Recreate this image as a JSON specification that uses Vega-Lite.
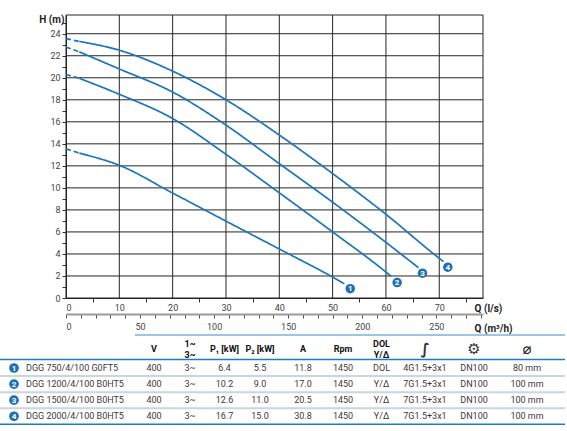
{
  "$schema": "https://vega.github.io/schema/vega-lite/v6.json",
  "autosize": {"type": "none"},
  "width": 417,
  "height": 283,
  "padding": {"left": 66, "top": 15, "right": 84, "bottom": 133},
  "background": "white",
  "datasets": {
    "gridQ": [{"q": 0}, {"q": 10}, {"q": 20}, {"q": 30}, {"q": 40}, {"q": 50}, {"q": 60}, {"q": 70}, {"q": 78.2}],
    "gridH": [{"h": 0}, {"h": 2}, {"h": 4}, {"h": 6}, {"h": 8}, {"h": 10}, {"h": 12}, {"h": 14}, {"h": 16}, {"h": 18}, {"h": 20}, {"h": 22}, {"h": 24}, {"h": 25.7}],
    "curves": [
      {"pump": 1, "seg": "d", "q": 0, "h": 13.55},
      {"pump": 1, "seg": "d", "q": 2.5, "h": 13.15},
      {"pump": 1, "seg": "s", "q": 2.5, "h": 13.15},
      {"pump": 1, "seg": "s", "q": 10, "h": 12.05},
      {"pump": 1, "seg": "s", "q": 20, "h": 9.53},
      {"pump": 1, "seg": "s", "q": 30, "h": 6.98},
      {"pump": 1, "seg": "s", "q": 40, "h": 4.45},
      {"pump": 1, "seg": "s", "q": 50, "h": 1.9},
      {"pump": 1, "seg": "s", "q": 52.2, "h": 1.3},
      {"pump": 2, "seg": "d", "q": 0, "h": 20.3},
      {"pump": 2, "seg": "d", "q": 2.5, "h": 19.95},
      {"pump": 2, "seg": "s", "q": 2.5, "h": 19.95},
      {"pump": 2, "seg": "s", "q": 10, "h": 18.5},
      {"pump": 2, "seg": "s", "q": 20, "h": 16.3},
      {"pump": 2, "seg": "s", "q": 30, "h": 13.05},
      {"pump": 2, "seg": "s", "q": 40, "h": 9.55},
      {"pump": 2, "seg": "s", "q": 50, "h": 6.0},
      {"pump": 2, "seg": "s", "q": 60, "h": 2.35},
      {"pump": 2, "seg": "s", "q": 61, "h": 1.95},
      {"pump": 3, "seg": "d", "q": 0, "h": 22.8},
      {"pump": 3, "seg": "d", "q": 2.5, "h": 22.35},
      {"pump": 3, "seg": "s", "q": 2.5, "h": 22.35},
      {"pump": 3, "seg": "s", "q": 10, "h": 20.8},
      {"pump": 3, "seg": "s", "q": 20, "h": 18.7},
      {"pump": 3, "seg": "s", "q": 30, "h": 15.7},
      {"pump": 3, "seg": "s", "q": 40, "h": 12.2},
      {"pump": 3, "seg": "s", "q": 50, "h": 8.7},
      {"pump": 3, "seg": "s", "q": 60, "h": 5.05},
      {"pump": 3, "seg": "s", "q": 66.1, "h": 2.75},
      {"pump": 4, "seg": "d", "q": 0, "h": 23.55},
      {"pump": 4, "seg": "d", "q": 2.5, "h": 23.3},
      {"pump": 4, "seg": "s", "q": 2.5, "h": 23.3},
      {"pump": 4, "seg": "s", "q": 10, "h": 22.5},
      {"pump": 4, "seg": "s", "q": 20, "h": 20.6},
      {"pump": 4, "seg": "s", "q": 30, "h": 18.0},
      {"pump": 4, "seg": "s", "q": 40, "h": 14.8},
      {"pump": 4, "seg": "s", "q": 50, "h": 11.3},
      {"pump": 4, "seg": "s", "q": 60, "h": 7.6},
      {"pump": 4, "seg": "s", "q": 70, "h": 3.6},
      {"pump": 4, "seg": "s", "q": 70.8, "h": 3.3}
    ],
    "markers": [
      {"pump": 1, "q": 53.3, "h": 0.85},
      {"pump": 2, "q": 62.1, "h": 1.4},
      {"pump": 3, "q": 66.85, "h": 2.25},
      {"pump": 4, "q": 71.6, "h": 2.8}
    ],
    "flowM3h": [{"m3h": 0}, {"m3h": 280}],
    "pumps": [
      {"no": 1, "model": "DGG 750/4/100 G0FT5", "V": "400", "phase": "3~", "P1": "6.4", "P2": "5.5", "A": "11.8", "rpm": "1450", "start": "DOL", "cable": "4G1.5+3x1", "flange": "DN100", "dia": "80 mm"},
      {"no": 2, "model": "DGG 1200/4/100 B0HT5", "V": "400", "phase": "3~", "P1": "10.2", "P2": "9.0", "A": "17.0", "rpm": "1450", "start": "Y/Δ", "cable": "7G1.5+3x1", "flange": "DN100", "dia": "100 mm"},
      {"no": 3, "model": "DGG 1500/4/100 B0HT5", "V": "400", "phase": "3~", "P1": "12.6", "P2": "11.0", "A": "20.5", "rpm": "1450", "start": "Y/Δ", "cable": "7G1.5+3x1", "flange": "DN100", "dia": "100 mm"},
      {"no": 4, "model": "DGG 2000/4/100 B0HT5", "V": "400", "phase": "3~", "P1": "16.7", "P2": "15.0", "A": "30.8", "rpm": "1450", "start": "Y/Δ", "cable": "7G1.5+3x1", "flange": "DN100", "dia": "100 mm"}
    ],
    "columns": [
      {"key": "V", "col": 2, "header": "V"},
      {"key": "phase", "col": 3, "header": "1~\n3~"},
      {"key": "P1", "col": 4, "header": "P₁ [kW]"},
      {"key": "P2", "col": 5, "header": "P₂ [kW]"},
      {"key": "A", "col": 6, "header": "A"},
      {"key": "rpm", "col": 7, "header": "Rpm"},
      {"key": "start", "col": 8, "header": "DOL\nY/Δ"},
      {"key": "cable", "col": 9, "icon": "∫"},
      {"key": "flange", "col": 10, "icon": "⚙"},
      {"key": "dia", "col": 11, "icon": "⌀"}
    ],
    "tableLines": [
      {"row": -0.5, "from": 1.5, "to": 11.5, "kind": "top"},
      {"row": 0.5, "from": -0.5, "to": 11.5, "kind": "major"},
      {"row": 1.5, "from": -0.5, "to": 11.5, "kind": "minor"},
      {"row": 2.5, "from": -0.5, "to": 11.5, "kind": "minor"},
      {"row": 3.5, "from": -0.5, "to": 11.5, "kind": "minor"},
      {"row": 4.5, "from": -0.5, "to": 11.5, "kind": "major"}
    ]
  },
  "layer": [
    {
      "data": {"name": "gridQ"},
      "mark": {"type": "rule", "color": "#262626", "strokeWidth": 1},
      "encoding": {
        "x": {"field": "q", "type": "quantitative", "scale": {"domain": [0, 78.2], "nice": false, "zero": false}, "axis": null}
      }
    },
    {
      "data": {"name": "gridH"},
      "mark": {"type": "rule", "color": "#262626", "strokeWidth": 1},
      "encoding": {
        "y": {"field": "h", "type": "quantitative", "scale": {"domain": [0, 25.7], "nice": false, "zero": false}, "axis": null}
      }
    },
    {
      "data": {"name": "curves"},
      "mark": {"type": "line", "interpolate": "monotone", "strokeWidth": 1.7, "color": "#1b75bc"},
      "encoding": {
        "x": {
          "field": "q", "type": "quantitative",
          "scale": {"domain": [0, 78.2], "nice": false, "zero": false},
          "axis": {
            "orient": "bottom",
            "values": [0, 10, 20, 30, 40, 50, 60, 70],
            "grid": false,
            "ticks": false,
            "labelPadding": 5,
            "labelOverlap": false,
            "title": "Q (l/s)",
            "titleAngle": 0,
            "titleAlign": "left",
            "titleBaseline": "middle",
            "titleX": 408,
            "titleY": 10
          }
        },
        "y": {
          "field": "h", "type": "quantitative",
          "scale": {"domain": [0, 25.7], "nice": false, "zero": false},
          "axis": {
            "orient": "left",
            "values": [0, 2, 4, 6, 8, 10, 12, 14, 16, 18, 20, 22, 24],
            "grid": false,
            "tickSize": 4,
            "labelPadding": 2,
            "labelOverlap": false,
            "title": "H (m)",
            "titleAngle": 0,
            "titleAlign": "right",
            "titleBaseline": "middle",
            "titleX": -2,
            "titleY": 4
          }
        },
        "detail": {"field": "pump", "type": "nominal"},
        "strokeDash": {
          "field": "seg", "type": "nominal",
          "scale": {"domain": ["d", "s"], "range": [[5, 3], [1, 0]]},
          "legend": null
        }
      }
    },
    {
      "data": {"name": "markers"},
      "mark": {"type": "circle", "size": 90, "opacity": 1, "color": "#1f6fb5"},
      "encoding": {
        "x": {"field": "q", "type": "quantitative", "scale": {"domain": [0, 78.2], "nice": false, "zero": false}, "axis": null},
        "y": {"field": "h", "type": "quantitative", "scale": {"domain": [0, 25.7], "nice": false, "zero": false}, "axis": null}
      }
    },
    {
      "data": {"name": "markers"},
      "mark": {"type": "text", "color": "white", "fontSize": 8, "fontWeight": "bold", "font": "Roboto", "baseline": "middle", "dy": 0.5},
      "encoding": {
        "x": {"field": "q", "type": "quantitative", "scale": {"domain": [0, 78.2], "nice": false, "zero": false}, "axis": null},
        "y": {"field": "h", "type": "quantitative", "scale": {"domain": [0, 25.7], "nice": false, "zero": false}, "axis": null},
        "text": {"field": "pump", "type": "nominal"}
      }
    },
    {
      "data": {"name": "markers"},
      "mark": {"type": "circle", "opacity": 0},
      "encoding": {
        "x": {
          "field": "q", "type": "quantitative",
          "scale": {"domain": [0, 78.2], "nice": false, "zero": false},
          "axis": {
            "orient": "bottom",
            "values": [5, 15, 25, 35, 45, 55, 65, 75],
            "labels": false, "domain": false, "grid": false,
            "tickSize": 4,
            "title": null
          }
        },
        "y": {
          "field": "h", "type": "quantitative",
          "scale": {"domain": [0, 25.7], "nice": false, "zero": false},
          "axis": {
            "orient": "left",
            "values": [1, 3, 5, 7, 9, 11, 13, 15, 17, 19, 21, 23, 25],
            "labels": false, "domain": false, "grid": false,
            "tickSize": 4,
            "title": null
          }
        }
      }
    },
    {
      "data": {"name": "flowM3h"},
      "mark": {"type": "circle", "opacity": 0},
      "encoding": {
        "x": {
          "field": "m3h", "type": "quantitative",
          "scale": {"domain": [0, 281.5], "nice": false, "zero": false},
          "axis": {
            "orient": "bottom",
            "offset": 16,
            "values": [0, 10, 20, 30, 40, 50, 60, 70, 80, 90, 100, 110, 120, 130, 140, 150, 160, 170, 180, 190, 200, 210, 220, 230, 240, 250, 260, 270, 280],
            "labelExpr": "datum.value % 50 === 0 ? datum.label : ''",
            "labelOverlap": false,
            "grid": false,
            "domainColor": "#9a9a9a",
            "domainWidth": 2,
            "tickColor": "#555",
            "tickSize": 4,
            "labelPadding": 4,
            "title": "Q (m³/h)",
            "titleAngle": 0,
            "titleAlign": "left",
            "titleBaseline": "middle",
            "titleX": 408,
            "titleY": 14
          }
        }
      }
    },
    {
      "layer": [
        {
          "data": {"name": "tableLines"},
          "mark": {"type": "rule"},
          "encoding": {
            "x": {
              "field": "from", "type": "quantitative",
              "scale": {
                "domain": [-0.5, 0, 1, 1.5, 2, 3, 4, 5, 6, 7, 8, 9, 10, 11, 11.5],
                "range": [-66, -52, -40, 69, 88, 124, 158.5, 194, 237, 277, 315.5, 359, 408, 461, 499],
                "nice": false, "zero": false
              },
              "axis": null
            },
            "x2": {"field": "to"},
            "y": {
              "field": "row", "type": "quantitative",
              "scale": {
                "domain": [-0.5, 0, 0.5, 1, 4.5],
                "range": [320, 334, 344.5, 353, 409.3],
                "nice": false, "zero": false
              },
              "axis": null
            },
            "color": {
              "field": "kind", "type": "nominal",
              "scale": {"domain": ["top", "major", "minor"], "range": ["#3a8ccb", "#1f7cc2", "#c8d5e2"]},
              "legend": null
            },
            "strokeWidth": {
              "field": "kind", "type": "nominal",
              "scale": {"domain": ["top", "major", "minor"], "range": [1, 2, 2]},
              "legend": null
            }
          }
        },
        {
          "data": {"name": "columns"},
          "transform": [{"filter": "isValid(datum.header) && indexof(datum.header, '\\n') < 0"}],
          "mark": {"type": "text", "font": "Roboto", "fontSize": 9, "fontWeight": "bold", "color": "#111", "baseline": "middle"},
          "encoding": {
            "x": {"field": "col", "type": "quantitative", "axis": null},
            "y": {"datum": 0, "type": "quantitative", "axis": null},
            "text": {"field": "header"}
          }
        },
        {
          "data": {"name": "columns"},
          "transform": [{"filter": "isValid(datum.header) && indexof(datum.header, '\\n') >= 0"}],
          "mark": {"type": "text", "font": "Roboto", "fontSize": 9, "fontWeight": "bold", "color": "#111", "baseline": "middle", "lineBreak": "\n", "lineHeight": 11, "dy": -5.5},
          "encoding": {
            "x": {"field": "col", "type": "quantitative", "axis": null},
            "y": {"datum": 0, "type": "quantitative", "axis": null},
            "text": {"field": "header"}
          }
        },
        {
          "data": {"name": "columns"},
          "transform": [{"filter": "isValid(datum.icon)"}],
          "mark": {"type": "text", "font": "DejaVu Sans", "fontSize": 15, "fontWeight": "bold", "color": "#333", "baseline": "middle"},
          "encoding": {
            "x": {"field": "col", "type": "quantitative", "axis": null},
            "y": {"datum": 0, "type": "quantitative", "axis": null},
            "text": {"field": "icon"}
          }
        },
        {
          "data": {"name": "pumps"},
          "transform": [
            {"fold": ["V", "phase", "P1", "P2", "A", "rpm", "start", "cable", "flange", "dia"], "as": ["key", "value"]},
            {"lookup": "key", "from": {"data": {"name": "columns"}, "key": "key", "fields": ["col"]}}
          ],
          "mark": {"type": "text", "font": "Roboto", "fontSize": 9, "color": "#3a3a3a", "baseline": "middle"},
          "encoding": {
            "x": {"field": "col", "type": "quantitative", "axis": null},
            "y": {"field": "no", "type": "quantitative", "axis": null},
            "text": {"field": "value"}
          }
        },
        {
          "data": {"name": "pumps"},
          "mark": {"type": "text", "font": "Roboto", "fontSize": 9, "color": "#3a3a3a", "baseline": "middle", "align": "left"},
          "encoding": {
            "x": {"datum": 1, "type": "quantitative", "axis": null},
            "y": {"field": "no", "type": "quantitative", "axis": null},
            "text": {"field": "model"}
          }
        },
        {
          "data": {"name": "pumps"},
          "mark": {"type": "circle", "size": 95, "opacity": 1, "color": "#1f6fb5"},
          "encoding": {
            "x": {"datum": 0, "type": "quantitative", "axis": null},
            "y": {"field": "no", "type": "quantitative", "axis": null}
          }
        },
        {
          "data": {"name": "pumps"},
          "mark": {"type": "text", "font": "Roboto", "fontSize": 8, "fontWeight": "bold", "color": "white", "baseline": "middle", "dy": 0.5},
          "encoding": {
            "x": {"datum": 0, "type": "quantitative", "axis": null},
            "y": {"field": "no", "type": "quantitative", "axis": null},
            "text": {"field": "no", "type": "nominal"}
          }
        }
      ]
    }
  ],
  "resolve": {"scale": {"x": "independent", "y": "independent"}},
  "config": {
    "view": {"stroke": null},
    "axis": {
      "labelFont": "Roboto",
      "labelFontSize": 9,
      "labelColor": "#444",
      "titleFont": "Roboto",
      "titleFontSize": 10,
      "titleFontWeight": "bold",
      "titleColor": "#222",
      "domainColor": "#222",
      "tickColor": "#333"
    }
  }
}
